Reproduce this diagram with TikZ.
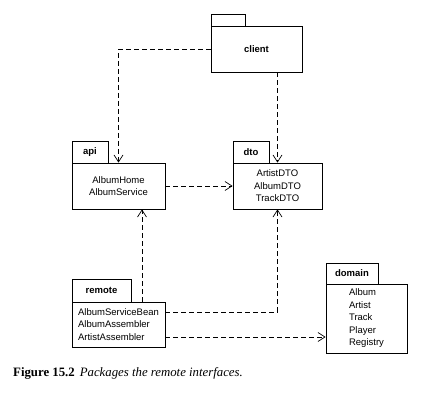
\documentclass[tikz,border=0pt]{standalone}
\usepackage{fontspec}
\setsansfont{Liberation Sans}
\setmainfont{Liberation Serif}
\usetikzlibrary{arrows.meta}
\begin{document}
\begin{tikzpicture}[
        x=1pt, y=-1pt,
        pkgtab/.style={
            draw,
            rectangle,
            line width=0.8pt,
            inner sep=0pt,
            font=\sffamily\bfseries\fontsize{9.5}{12.5}\selectfont
        },
        pkgbody/.style={
            draw,
            rectangle,
            line width=0.8pt,
            inner sep=0pt,
            align=center,
            font=\sffamily\fontsize{9.5}{12.5}\selectfont
        },
        dep/.style={
            line width=0.7pt,
            dash pattern=on 5pt off 3pt,
            -{Straight Barb[length=7pt,width=9pt,line width=0.7pt]}
        }
    ]
        \useasboundingbox (0,0) rectangle (436,401);

        % Package bodies
        \node[pkgbody, minimum width=91pt, minimum height=46pt] (client) at (256.5,49) {\bfseries client};
        \node[pkgbody, minimum width=93pt, minimum height=46pt] (api) at (118.5,186) {AlbumHome\\AlbumService};
        \node[pkgbody, minimum width=89pt, minimum height=46pt] (dto) at (277.5,186) {ArtistDTO\\AlbumDTO\\TrackDTO};
        \node[pkgbody, minimum width=93pt, minimum height=45pt, align=left] (remote) at (118.5,324.5) {AlbumServiceBean\\AlbumAssembler\\ArtistAssembler};
        \node[pkgbody, minimum width=81pt, minimum height=69pt, align=left] (domain) at (366.5,318.5) {Album\\Artist\\Track\\Player\\Registry};

        % Package tabs
        \node[pkgtab, minimum width=34pt, minimum height=12pt] (clienttab) at (228,20) {};
        \node[pkgtab, minimum width=36pt, minimum height=22pt] (apitab) at (90,152) {api};
        \node[pkgtab, minimum width=36pt, minimum height=22pt] (dtotab) at (251,152) {dto};
        \node[pkgtab, minimum width=59pt, minimum height=23pt] (remotetab) at (101.5,290.5) {remote};
        \node[pkgtab, minimum width=52pt, minimum height=21pt] (domaintab) at (352,273.5) {domain};

        % Dependencies
        \coordinate (apiin) at ([xshift=23.5pt]api.south);
        \coordinate (beanout) at ([yshift=12.5pt]remote.east);
        \coordinate (assemblerout) at ([yshift=-12.5pt]remote.east);
        \draw[dep] (client.west) -| (api.north);
        \draw[dep] (dto.north |- client.south) -- (dto.north);
        \draw[dep] (api.east) -- (dto.west);
        \draw[dep] (remote.north -| apiin) -- (apiin);
        \draw[dep] (beanout) -| (dto.south);
        \draw[dep] (assemblerout) -- (assemblerout -| domain.west);

        % Caption
        \node[anchor=base west, inner sep=0pt, font=\fontsize{12.8}{15}\selectfont] (caption) at (13,376)
            {\textbf{Figure 15.2}\hspace{5pt}\textit{Packages the remote interfaces.}};

    \end{tikzpicture}
\end{document}
